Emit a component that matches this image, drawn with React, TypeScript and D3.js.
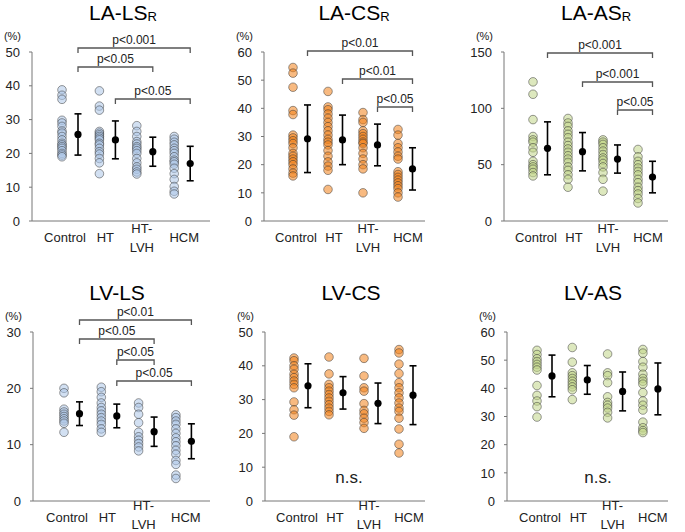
import React from "react";
import * as d3 from "d3";

const categories = ["Control", "HT", "HT-LVH", "HCM"];

// LA-LSR
const laLsR = [
  [38.8, 37.2, 36, 29.8, 29, 28, 26.6, 26, 25, 24, 23, 22.5, 22, 21.5, 20.8, 20, 19.5, 19],
  [38.5, 34, 32.8, 26.5, 26, 25.5, 25, 24.5, 24, 23, 22.5, 21.5, 20.5, 19.8, 18.5, 17.2, 14],
  [28.2, 26.5, 25, 23.5, 22.8, 22, 21.5, 20.8, 20, 18.5, 17.2, 16, 15.3, 14.5, 13.9],
  [25, 24.2, 23.3, 22.5, 21.5, 20.8, 20, 19, 18, 17.5, 16.8, 15.6, 14, 12.3, 10.2, 8.8, 8],
];
const laLsRMean = [25.6, 24, 20.5, 17];
const laLsRSd = [6.1, 5.6, 4.3, 5.1];

// LA-CSR
const laCsR = [
  [54.5, 52.5, 47.5, 39.2, 37.8, 30.5, 29.5, 28.5, 27.5, 26, 24, 23, 22, 21, 20, 18.5, 17, 16],
  [46, 40.5, 39.5, 38, 36.5, 35, 33.5, 32, 30.5, 29, 28, 27, 25, 23, 21, 19.5, 18, 11.2],
  [38.5, 36, 35, 32, 31, 30, 29, 28, 27.5, 26, 24, 22, 20, 18.5, 10],
  [32.5, 30.5, 27.5, 26, 24.5, 23, 22, 17.5, 16.5, 15.5, 14.5, 13.5, 12.5, 11.5, 10, 8.5],
];
const laCsRMean = [29.2, 28.8, 27, 18.5];
const laCsRSd = [12, 8.8, 7.4, 7.5];

// LA-ASR
const laAsR = [
  [123.5, 112.5, 90, 75, 72, 70, 65, 61, 53, 50, 48, 46, 43, 40],
  [91, 87, 84, 80, 77, 74, 70, 67, 64, 61, 58, 55, 52, 48, 45, 41, 37, 30],
  [72, 70, 68, 65, 62, 59, 56, 54, 51, 48, 43, 37, 26.5],
  [63.5, 57, 53, 50, 47, 44, 41, 37, 34, 30, 27, 24, 20, 16],
];
const laAsRMean = [64.5, 61.5, 55, 39];
const laAsRSd = [23.5, 17, 12.5, 14];

// LV-LS
const lvLs = [
  [20, 19.2, 16.3, 15.8, 15.4, 15, 14.6, 14.2, 13.8, 12.2],
  [20.2, 19.4, 18.4, 17.4, 16.6, 16, 15.4, 14.8, 14.2, 13.6, 12.8, 12.2],
  [17.4, 16.6, 15.4, 13.9, 12.2, 11.4, 10.8, 10.2, 9.6, 8.9],
  [15.3, 14.8, 14.2, 13.6, 12.8, 12, 11.2, 10.5, 9.8, 9, 8.3, 7.2, 6.5, 4.6, 4],
];
const lvLsMean = [15.5, 15.1, 12.3, 10.6];
const lvLsSd = [2.1, 2.1, 2.6, 3.1];

// LV-CS
const lvCs = [
  [42.3, 41.5, 40, 39, 37.5, 36.5, 35.5, 34.5, 33.5, 29.3, 27, 25.4, 19],
  [42.6, 37.6, 34.5, 33.5, 32.5, 31.5, 30.5, 29.5, 28.5, 27.5, 26.5, 25.5],
  [42.2, 37, 33.5, 32.5, 28.8, 26.8, 25.8, 24.5, 23.2, 21.5],
  [44.8, 43.8, 40.5, 37.7, 35, 33.5, 32, 30.5, 29, 27.5, 26.5, 24.5, 21.3, 16.8, 14.2],
];
const lvCsMean = [34.1, 32, 28.9, 31.3];
const lvCsSd = [6.5, 4.8, 6, 8.7];

// LV-AS
const lvAs = [
  [53.5, 52, 50.5, 49.5, 48.5, 47.5, 46.5, 41, 37.5, 35.5, 33.5, 29.8],
  [54.5, 49.3, 45.5, 44.5, 43.5, 42.5, 41.5, 40.5, 39.5, 36],
  [52.2, 45.5, 44.5, 42, 37, 35, 34, 33, 31.5, 29.5],
  [53.8, 52.5, 49.5, 47.5, 45, 43.5, 42.5, 41.5, 38.5, 35.5, 34, 32.3, 28, 26, 25, 24.3],
];
const lvAsMean = [44.4, 43, 38.9, 39.8];
const lvAsSd = [7.4, 5.1, 6.9, 9.2];

// significance brackets: [from, to, label]
const laLsRSig: [number, number, string][] = [[0, 3, "p<0.001"], [0, 2, "p<0.05"], [1, 3, "p<0.05"]];
const laCsRSig: [number, number, string][] = [[0, 3, "p<0.01"], [1, 3, "p<0.01"], [2, 3, "p<0.05"]];
const laAsRSig: [number, number, string][] = [[0, 3, "p<0.001"], [1, 3, "p<0.001"], [2, 3, "p<0.05"]];
const lvLsSig: [number, number, string][] = [[0, 3, "p<0.01"], [0, 2, "p<0.05"], [1, 2, "p<0.05"], [1, 3, "p<0.05"]];

const FONT = "'Liberation Sans', Arial, sans-serif";

const BLUE = "#adc7e7";
const ORANGE = "#f38119";
const GREEN = "#c1d589";

type PanelProps = {
  title: string;
  sub?: string;
  titleX: number;
  data: number[][];
  mean: number[];
  sd: number[];
  yMax: number;
  yStep: number;
  axisX: number;
  axisEnd: number;
  top: number;
  bottom: number;
  dotStart: number;
  dotStep: number;
  meanOff: number;
  color: string;
  sig?: [number, number, string][];
  sigY?: number[];
  ns?: number;
  lvhDy: number;
};

const labelShift = [3, 6, 5, 10];

function Panel(p: PanelProps) {
  const y = d3.scaleLinear().domain([0, p.yMax]).range([p.bottom, p.top]);
  const x = d3
    .scalePoint<string>()
    .domain(categories)
    .range([p.dotStart, p.dotStart + p.dotStep * 3]);
  const ticks = d3.range(0, p.yMax + 0.001, p.yStep);
  const titleY = p.top - 32;
  return (
    <g>
      <text x={p.titleX} y={titleY} textAnchor="middle" fontSize={21} fontFamily={FONT} fill="#000">
        {p.title}
        {p.sub ? (
          <tspan fontSize={13} dy={1}>
            {p.sub}
          </tspan>
        ) : null}
      </text>
      <text x={p.axisX - 11} y={p.top - 12} textAnchor="end" fontSize={11} fontFamily={FONT} fill="#222">
        (%)
      </text>
      {/* axes */}
      <line x1={p.axisX} x2={p.axisX} y1={p.top} y2={p.bottom} stroke="#777" strokeWidth={1} />
      <line x1={p.axisX} x2={p.axisEnd} y1={p.bottom} y2={p.bottom} stroke="#777" strokeWidth={1} />
      {ticks.map((t) => (
        <g key={t}>
          <line x1={p.axisX - 3} x2={p.axisX} y1={y(t)} y2={y(t)} stroke="#777" strokeWidth={1} />
          <text
            x={p.axisX - 12}
            y={y(t)}
            dy="0.36em"
            textAnchor="end"
            fontSize={13}
            fontFamily={FONT}
            fill="#222"
          >
            {t}
          </text>
        </g>
      ))}
      {/* category labels */}
      {categories.map((c, i) => {
        const cx = (x(c) as number) + labelShift[i];
        if (c === "HT-LVH") {
          return (
            <text key={c} textAnchor="middle" fontSize={13} fontFamily={FONT} fill="#222">
              <tspan x={cx} y={p.bottom + p.lvhDy - 19}>HT-</tspan>
              <tspan x={cx} y={p.bottom + p.lvhDy}>LVH</tspan>
            </text>
          );
        }
        return (
          <text key={c} x={cx} y={p.bottom + 21} textAnchor="middle" fontSize={13} fontFamily={FONT} fill="#222">
            {c}
          </text>
        );
      })}
      {/* dots */}
      {p.data.map((vals, i) =>
        vals.map((v, j) => (
          <circle
            key={i + "-" + j}
            cx={x(categories[i]) as number}
            cy={y(v)}
            r={4.3}
            fill={p.color}
            fillOpacity={0.55}
            stroke="#333"
            strokeOpacity={0.55}
            strokeWidth={0.9}
          />
        ))
      )}
      {/* mean +/- sd */}
      {p.mean.map((m, i) => {
        const mx = (x(categories[i]) as number) + p.meanOff;
        const lo = y(m - p.sd[i]);
        const hi = y(m + p.sd[i]);
        return (
          <g key={"m" + i}>
            <line x1={mx} x2={mx} y1={lo} y2={hi} stroke="#000" strokeWidth={1.6} />
            <line x1={mx - 3.5} x2={mx + 3.5} y1={lo} y2={lo} stroke="#000" strokeWidth={1.6} />
            <line x1={mx - 3.5} x2={mx + 3.5} y1={hi} y2={hi} stroke="#000" strokeWidth={1.6} />
            <circle cx={mx} cy={y(m)} r={3.6} fill="#000" />
          </g>
        );
      })}
      {/* brackets */}
      {p.sig &&
        p.sig.map((s, k) => {
          const x1 = (x(categories[s[0]]) as number) + p.meanOff;
          const x2 = (x(categories[s[1]]) as number) + p.meanOff;
          const by = p.sigY![k];
          return (
            <g key={"s" + k}>
              <path
                d={`M${x1},${by + 5}V${by}H${x2}V${by + 5}`}
                fill="none"
                stroke="#555"
                strokeWidth={1.3}
              />
              <text
                x={(x1 + x2) / 2}
                y={by - 4}
                textAnchor="middle"
                fontSize={12}
                fontFamily={FONT}
                fill="#222"
              >
                {s[2]}
              </text>
            </g>
          );
        })}
      {p.ns !== undefined && (
        <text x={p.ns} y={p.bottom - 18} textAnchor="middle" fontSize={17} fontFamily={FONT} fill="#222">
          n.s.
        </text>
      )}
    </g>
  );
}

export default function App() {
  return (
    <svg
      width={685}
      height={532}
      style={{ position: "absolute", left: 0, top: 0, background: "#fff" }}
    >
      <Panel title="LA-LS" sub="R" titleX={123} data={laLsR} mean={laLsRMean} sd={laLsRSd} yMax={50} yStep={10}
        axisX={32} axisEnd={210} top={52} bottom={221} dotStart={62} dotStep={37.4} meanOff={16} color={BLUE}
        sig={laLsRSig} sigY={[48, 67, 99]} lvhDy={31} />
      <Panel title="LA-CS" sub="R" titleX={354} data={laCsR} mean={laCsRMean} sd={laCsRSd} yMax={60} yStep={10}
        axisX={264} axisEnd={425} top={52} bottom={221} dotStart={293} dotStep={35} meanOff={14.5} color={ORANGE}
        sig={laCsRSig} sigY={[51, 79, 107]} lvhDy={31} />
      <Panel title="LA-AS" sub="R" titleX={596} data={laAsR} mean={laAsRMean} sd={laAsRSd} yMax={150} yStep={50}
        axisX={504} axisEnd={668} top={52} bottom={221} dotStart={533} dotStep={35} meanOff={14.5} color={GREEN}
        sig={laAsRSig} sigY={[53, 82, 110]} lvhDy={31} />
      <Panel title="LV-LS" titleX={117} data={lvLs} mean={lvLsMean} sd={lvLsSd} yMax={30} yStep={10}
        axisX={33} axisEnd={210} top={332} bottom={501} dotStart={64} dotStep={37.3} meanOff={15.5} color={BLUE}
        sig={lvLsSig} sigY={[320, 339, 360, 381]} lvhDy={28} />
      <Panel title="LV-CS" titleX={351} data={lvCs} mean={lvCsMean} sd={lvCsSd} yMax={50} yStep={10}
        axisX={265} axisEnd={425} top={332} bottom={501} dotStart={294} dotStep={35} meanOff={14} color={ORANGE}
        ns={349} lvhDy={28} />
      <Panel title="LV-AS" titleX={593} data={lvAs} mean={lvAsMean} sd={lvAsSd} yMax={60} yStep={10}
        axisX={507} axisEnd={668} top={332} bottom={501} dotStart={537} dotStep={35.3} meanOff={15} color={GREEN}
        ns={598} lvhDy={28} />
    </svg>
  );
}
